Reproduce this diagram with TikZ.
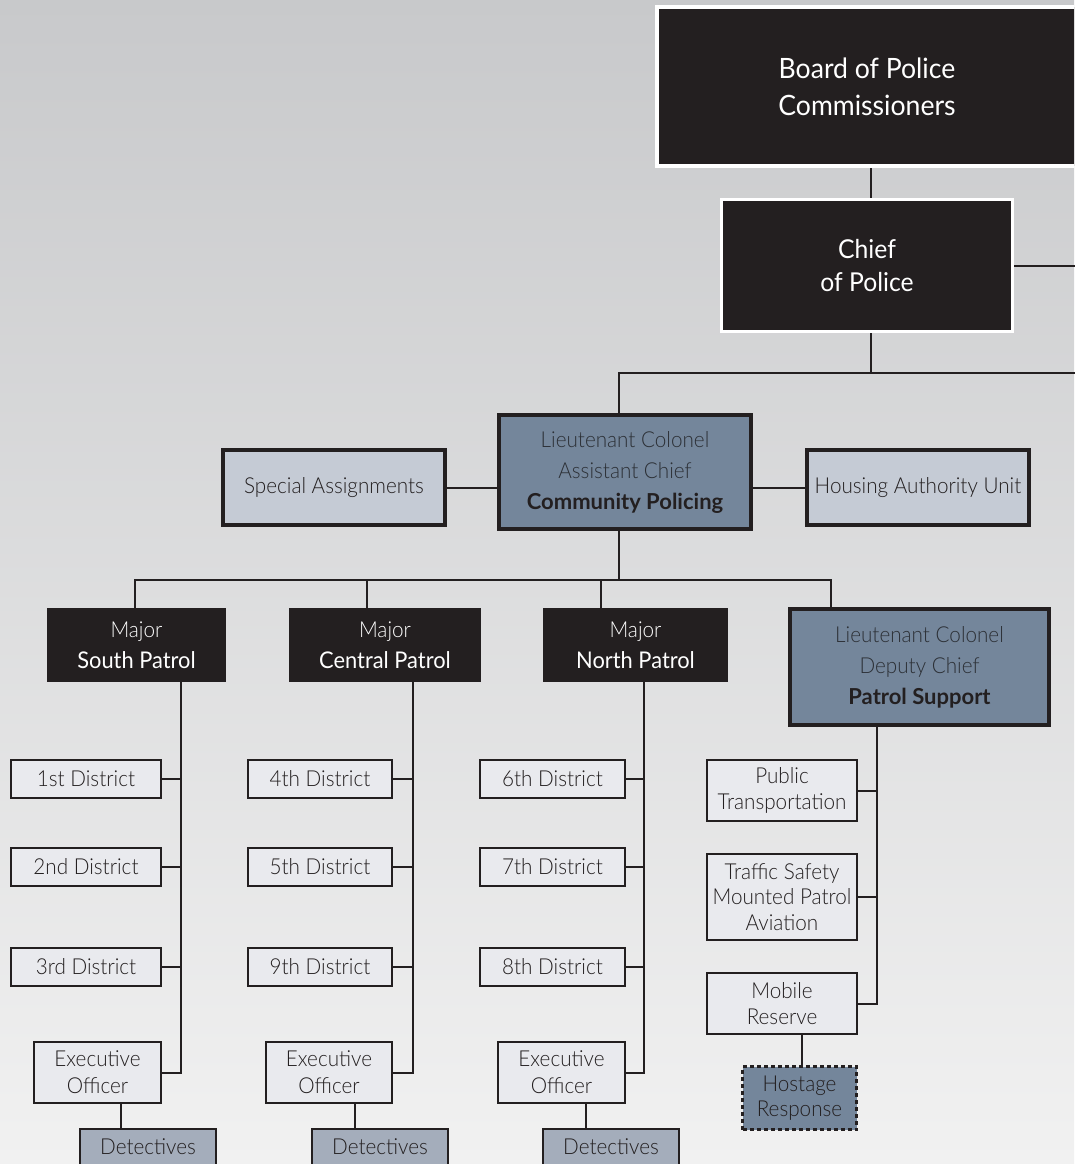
\documentclass[tikz,border=0pt]{standalone}
\usepackage{fontspec}
\setmainfont{Lato}
\newfontfamily\regf{Lato}[FakeStretch=0.95]
\IfFontExistsTF{Lato Light}{\newfontfamily\lightf{Lato Light}[FakeStretch=0.94]}{\newfontfamily\lightf{Lato}[FakeStretch=0.9]}
\usetikzlibrary{backgrounds}
\definecolor{dark}{HTML}{231F20}
\definecolor{bgtop}{HTML}{C8C9CB}
\definecolor{bgbot}{HTML}{F1F1F1}
\definecolor{slate}{HTML}{74869B}
\definecolor{pale}{HTML}{C5CBD5}
\definecolor{distfill}{HTML}{E9EAEE}
\definecolor{detfill}{HTML}{A4ADBB}
\definecolor{slatetext}{HTML}{2C3036}
\tikzset{
  box/.style={rectangle, inner sep=0pt, outer sep=0pt, align=center, text=dark},
  blackbox/.style={box, fill=dark, text=white},
  whiteedge/.style={blackbox, draw=white},
  heavybox/.style={box, draw=dark, line width=4pt, fill=slate},
  palebox/.style={box, draw=dark, line width=4pt, fill=pale},
  thinbox/.style={box, draw=dark, line width=2pt, fill=distfill},
  detbox/.style={box, draw=dark, line width=2pt, fill=detfill},
  hostbox/.style={box, draw=dark, line width=3pt, dash pattern=on 4pt off 3pt, fill=slate},
  conn/.style={draw=dark, line width=2pt},
  fbig/.style={font=\regf\fontsize{28}{37}\selectfont},
  fchief/.style={font=\regf\fontsize{26}{33}\selectfont},
  flight/.style={font=\lightf\fontsize{22}{31}\selectfont},
  fsmall/.style={font=\lightf\fontsize{22}{25.5}\selectfont},
  fexec/.style={font=\lightf\fontsize{22}{27}\selectfont},
}
\newcommand{\majtext}[1]{{\lightf Major}\\{\regf\fontsize{23}{31}\selectfont #1}}
\begin{document}
\begin{tikzpicture}[x=1pt,y=-1pt]
\useasboundingbox (0,0) rectangle (1074,1164);
\clip (0,0) rectangle (1074,1164);

% nodes
\node[whiteedge, line width=4pt, fbig, minimum width=420pt, minimum height=159pt] (board) at (867,86.5) {\raisebox{-2pt}{Board of Police}\\\raisebox{-2pt}{Commissioners}};
\node[whiteedge, line width=3pt, fchief, minimum width=291pt, minimum height=132pt] (chief) at (867,265.5) {Chief\\of Police};
\node[heavybox, flight, text=slatetext, minimum width=252pt, minimum height=114pt] (cp) at (625,472) {Lieutenant Colonel\\Assistant Chief\\{\normalfont\bfseries\fontsize{22}{31}\selectfont\color{dark}Community Policing}};
\node[palebox, flight, minimum width=222pt, minimum height=75pt] (sa) at (334,487.5) {Special Assignments};
\node[palebox, flight, minimum width=222pt, minimum height=75pt] (hau) at (918,487.5) {Housing Authority Unit};

\node[blackbox, flight, minimum width=179pt, minimum height=74pt] (south) at (136.5,645) {\majtext{South Patrol}};
\node[blackbox, flight, minimum width=192pt, minimum height=74pt] (central) at (385,645) {\majtext{Central Patrol}};
\node[blackbox, flight, minimum width=185pt, minimum height=74pt] (north) at (635.5,645) {\majtext{North Patrol}};
\node[heavybox, flight, text=slatetext, minimum width=259pt, minimum height=116pt] (ps) at (919.5,667) {Lieutenant Colonel\\Deputy Chief\\{\normalfont\bfseries\fontsize{22}{31}\selectfont\color{dark}Patrol Support}};

% districts
\node[thinbox, flight, minimum width=150pt, minimum height=38pt] (d1) at (86,779) {1st District};
\node[thinbox, flight, minimum width=150pt, minimum height=38pt] (d2) at (86,867) {2nd District};
\node[thinbox, flight, minimum width=150pt, minimum height=38pt] (d3) at (86,967) {3rd District};
\node[thinbox, flight, minimum width=144pt, minimum height=38pt] (d4) at (320,779) {4th District};
\node[thinbox, flight, minimum width=144pt, minimum height=38pt] (d5) at (320,867) {5th District};
\node[thinbox, flight, minimum width=144pt, minimum height=38pt] (d9) at (320,967) {9th District};
\node[thinbox, flight, minimum width=145pt, minimum height=38pt] (d6) at (552.5,779) {6th District};
\node[thinbox, flight, minimum width=145pt, minimum height=38pt] (d7) at (552.5,867) {7th District};
\node[thinbox, flight, minimum width=145pt, minimum height=38pt] (d8) at (552.5,967) {8th District};

% executive officers and detectives
\node[thinbox, fexec, minimum width=127pt, minimum height=61pt] (exS) at (97.5,1072.5) {Executive\\Officer};
\node[thinbox, fexec, minimum width=126pt, minimum height=61pt] (exC) at (329,1072.5) {Executive\\Officer};
\node[thinbox, fexec, minimum width=127pt, minimum height=61pt] (exN) at (561.5,1072.5) {Executive\\Officer};
\node[detbox, flight, minimum width=136pt, minimum height=36pt] (detS) at (148,1147) {Detectives};
\node[detbox, flight, minimum width=136pt, minimum height=36pt] (detC) at (380,1147) {Detectives};
\node[detbox, flight, minimum width=136pt, minimum height=36pt] (detN) at (611,1147) {Detectives};

% patrol support units
\node[thinbox, fsmall, minimum width=150pt, minimum height=61pt] (pt) at (782,790.5) {Public\\Transportation};
\node[thinbox, fsmall, minimum width=150pt, minimum height=86pt] (tr) at (782,897) {Traffic Safety\\Mounted Patrol\\Aviation};
\node[thinbox, fsmall, minimum width=150pt, minimum height=61pt] (mob) at (782,1003.5) {Mobile\\Reserve};
\node[hostbox, fsmall, minimum width=114pt, minimum height=63pt] (host) at (799.5,1098) {Hostage\\Response};

% helper coordinates
\coordinate (redge) at (1080,0);
\coordinate (cx) at (871,0);
\coordinate (bus1) at (619,373);
\coordinate (bus2) at (619,580);
\coordinate (dS) at (135,580);
\coordinate (dC) at (367,580);
\coordinate (dN) at (601,580);
\coordinate (dP) at (831,580);
\coordinate (sS) at (181,0);
\coordinate (sC) at (413,0);
\coordinate (sN) at (644,0);
\coordinate (sP) at (877,0);
\coordinate (eS) at (121,0);
\coordinate (eC) at (355,0);
\coordinate (eN) at (586,0);
\coordinate (hx) at (802,0);

\begin{scope}[on background layer]
\shade[top color=bgtop, bottom color=bgbot] (0,0) rectangle (1074,1164);
\draw[conn] (board.south -| cx) -- (chief.north -| cx);
\draw[conn] (chief.east) -- (chief.east -| redge);
\draw[conn] (chief.south -| cx) -- (cx |- bus1);
\draw[conn] (bus1 -| redge) -- (bus1) -- (cp.north -| bus1);
\draw[conn] (sa.east) -- (sa.east -| cp.west);
\draw[conn] (cp.east |- hau.west) -- (hau.west);
\draw[conn] (cp.south -| bus2) -- (bus2);
\draw[conn] (south.north -| dS) -- (dS) -- (dP) -- (ps.north -| dP);
\draw[conn] (dC) -- (central.north -| dC);
\draw[conn] (dN) -- (north.north -| dN);
% south column
\draw[conn] (south.south -| sS) |- (exS.east);
\foreach \d in {d1,d2,d3} \draw[conn] (\d.east) -- (\d.east -| sS);
\draw[conn] (exS.south -| eS) -- (detS.north -| eS);
% central column
\draw[conn] (central.south -| sC) |- (exC.east);
\foreach \d in {d4,d5,d9} \draw[conn] (\d.east) -- (\d.east -| sC);
\draw[conn] (exC.south -| eC) -- (detC.north -| eC);
% north column
\draw[conn] (north.south -| sN) |- (exN.east);
\foreach \d in {d6,d7,d8} \draw[conn] (\d.east) -- (\d.east -| sN);
\draw[conn] (exN.south -| eN) -- (detN.north -| eN);
% patrol support column
\draw[conn] (ps.south -| sP) |- (mob.east);
\foreach \d in {pt,tr} \draw[conn] (\d.east) -- (\d.east -| sP);
\draw[conn] (mob.south -| hx) -- (host.north -| hx);
\end{scope}
\end{tikzpicture}
\end{document}
